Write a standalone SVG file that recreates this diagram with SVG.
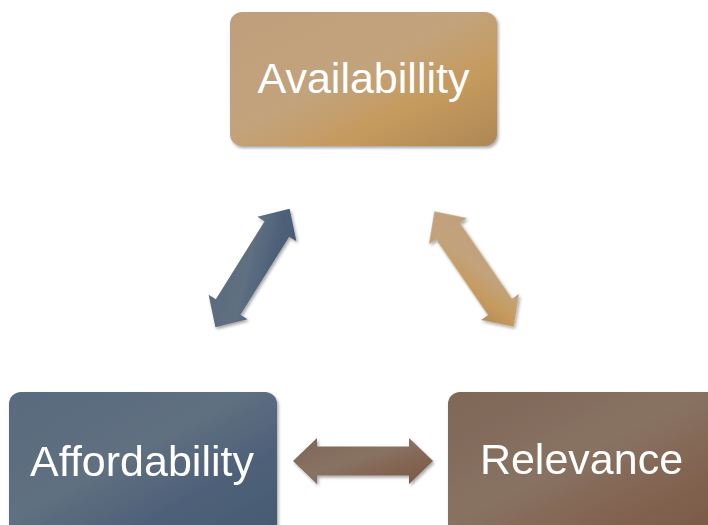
<svg xmlns="http://www.w3.org/2000/svg" width="708" height="525" viewBox="0 0 708 525">
<defs>
<style>
.lbl{font-family:"Liberation Sans",Arial,sans-serif;font-size:43px;fill:#ffffff;text-anchor:middle}
</style>
<filter id="sh" x="-10%" y="-10%" width="125%" height="130%">
<feDropShadow dx="1.5" dy="2" stdDeviation="1.8" flood-color="#000" flood-opacity="0.35"/>
</filter>
<linearGradient id="gTan" x1="0" y1="0" x2="1" y2="1">
<stop offset="0" stop-color="#bf9f7b"/>
<stop offset="0.45" stop-color="#c2a37c"/>
<stop offset="0.7" stop-color="#c69a5e"/>
<stop offset="1" stop-color="#ad8755"/>
</linearGradient>
<linearGradient id="gBlue" x1="0" y1="0" x2="1" y2="1">
<stop offset="0" stop-color="#5a6b7f"/>
<stop offset="0.45" stop-color="#5f6f80"/>
<stop offset="0.7" stop-color="#4e6179"/>
<stop offset="1" stop-color="#465970"/>
</linearGradient>
<linearGradient id="gBrown" x1="0" y1="0" x2="1" y2="1">
<stop offset="0" stop-color="#7f6656"/>
<stop offset="0.45" stop-color="#887262"/>
<stop offset="0.7" stop-color="#836452"/>
<stop offset="1" stop-color="#775845"/>
</linearGradient>
<polygon id="dbl" points="-70,0 -46,-23 -46,-14.5 46,-14.5 46,-23 70,0 46,23 46,14.5 -46,14.5 -46,23"/>
</defs>
<rect width="708" height="525" fill="#ffffff"/>
<g id="connectors" filter="url(#sh)">
<use href="#dbl" fill="url(#gBlue)" transform="translate(252.5,268) rotate(-58)"/>
<use href="#dbl" fill="url(#gTan)" transform="translate(474,269) rotate(55.5)"/>
<use href="#dbl" fill="url(#gBrown)" transform="translate(363,461)"/>
</g>
<g id="availability">
<rect x="230" y="12" width="267" height="134" rx="12" fill="url(#gTan)" filter="url(#sh)"/>
<text class="lbl" x="363.5" y="93">Availabillity</text>
</g>
<g id="affordability">
<rect x="9" y="392" width="268" height="145" rx="12" fill="url(#gBlue)" filter="url(#sh)"/>
<text class="lbl" x="142" y="476">Affordability</text>
</g>
<g id="relevance">
<rect x="448" y="392" width="280" height="145" rx="12" fill="url(#gBrown)" filter="url(#sh)"/>
<text class="lbl" x="581.5" y="474">Relevance</text>
</g>
</svg>
